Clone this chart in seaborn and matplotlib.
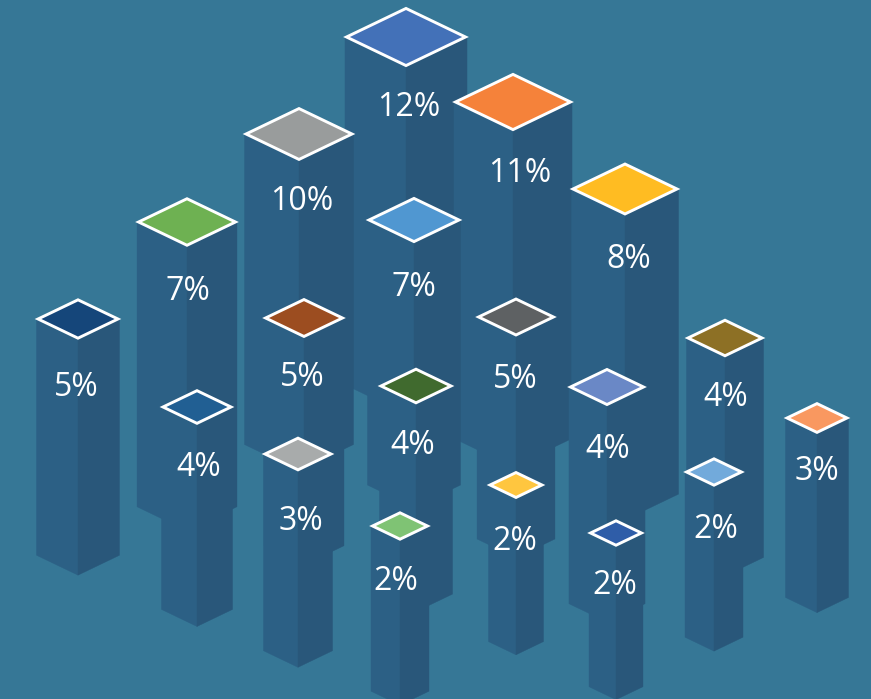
import numpy as np
import matplotlib
matplotlib.use("Agg")
import matplotlib.pyplot as plt
import seaborn as sns

# Share of each column, in percent
values = [12, 11, 10, 8, 7, 7, 5, 5, 5, 4, 4, 4, 4, 3, 3, 2, 2, 2, 2]
tile_colors = ["#4371B8", "#F5823A", "#999C9C", "#FFBC22", "#6EB152", "#5097D1",
               "#15467A", "#9C4D20", "#5E6163", "#215F93", "#406A2E", "#6A88C6",
               "#8D7025", "#A8ABAB", "#F99860", "#7FC374", "#FFC63F", "#2F5DA8",
               "#72AADB"]

# Placement of each column on the isometric floor plan (pixel units)
center_x = [406, 513, 299, 625, 187, 414, 78, 304, 516, 197, 416, 607, 725, 298, 817, 400, 516, 616, 714]
top_y = [37, 102, 134, 189, 222, 220, 319, 318, 317, 407, 386, 387, 338, 454, 418, 526, 485, 533, 472]
size_adjust = [1.065, 1.067, 1.023, 1.099, 1.082, 1.007, 1.027, 0.99, 0.965, 0.962,
               0.989, 1.03, 1.043, 1.049, 0.957, 1.036, 0.982, 0.964, 1.036]
label_x = [409, 520, 301.5, 629, 188, 414, 76.5, 302.5, 515, 199, 413, 608, 726, 301, 817, 396, 515, 615, 716]
label_y = [104, 170, 197, 256, 288, 284, 383, 374, 375, 463, 441, 445, 394, 518, 468, 578, 537, 581, 526]

BACKGROUND = "#367796"
LEFT_FACE = "#2C6085"
RIGHT_FACE = "#29577A"
SLOPE = 0.48       # isometric foreshortening of the top tile
HEIGHT_RATIO = 5.7  # column height per unit of half width


def half_width(value, adjust):
    """Half width of a column; height and tile follow from it."""
    return 21.2 * value ** 0.4 * adjust


def draw_column(ax, cx, my, hw, color):
    hh = hw * SLOPE
    drop = hw * HEIGHT_RATIO
    ax.fill([cx - hw, cx, cx, cx - hw],
            [my, my + hh, my + hh + drop, my + drop],
            facecolor=LEFT_FACE, edgecolor=LEFT_FACE, lw=0.3, zorder=my)
    ax.fill([cx, cx + hw, cx + hw, cx],
            [my + hh, my, my + drop, my + hh + drop],
            facecolor=RIGHT_FACE, edgecolor=RIGHT_FACE, lw=0.3, zorder=my)
    tile = hw - 1.5
    ax.fill([cx - tile, cx, cx + tile, cx],
            [my, my - tile * SLOPE, my, my + tile * SLOPE],
            facecolor=color, edgecolor="white", lw=2.1, joinstyle="miter",
            zorder=my + 0.5)


sns.set_theme(style="white", rc={"figure.facecolor": BACKGROUND, "axes.facecolor": BACKGROUND})
plt.rcParams["font.family"] = ["Open Sans", "DejaVu Sans"]

fig = plt.figure(figsize=(8.71, 6.99), dpi=100)
ax = fig.add_axes([0, 0, 1, 1])
ax.set_xlim(0, 871)
ax.set_ylim(699, 0)
ax.set_axis_off()

for v, col, cx, my, adj in zip(values, tile_colors, center_x, top_y, size_adjust):
    draw_column(ax, cx, my, half_width(v, adj), col)

for v, lx, ly in zip(values, label_x, label_y):
    ax.text(lx, ly, f"{v}%", color="white", fontsize=23, ha="center",
            va="center_baseline", zorder=1000)

sns.despine(ax=ax, left=True, bottom=True)
fig.savefig("out.png", dpi=100, facecolor=BACKGROUND)
